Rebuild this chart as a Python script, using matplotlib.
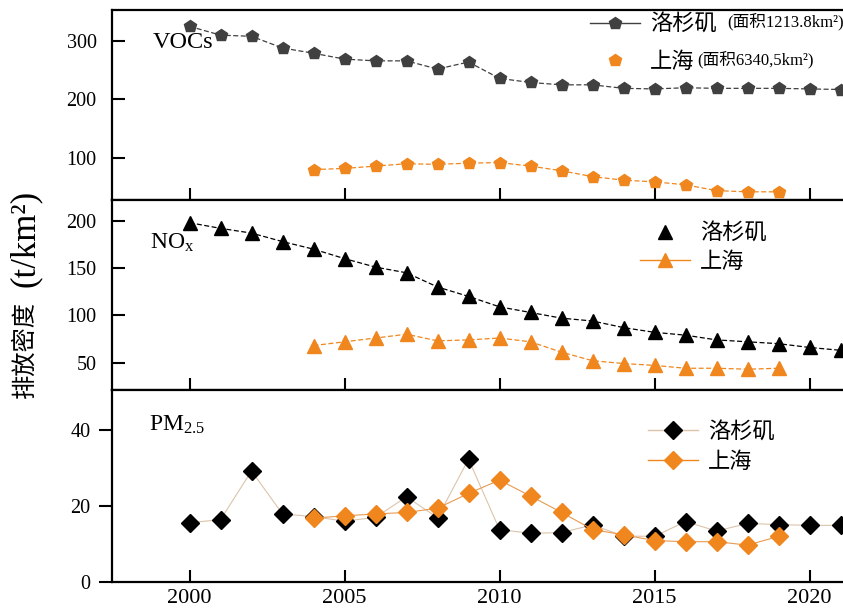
import matplotlib
matplotlib.use('Agg')
import matplotlib.pyplot as plt
from matplotlib.lines import Line2D

plt.rcParams['font.family'] = ['Liberation Serif', 'Noto Sans CJK SC']
plt.rcParams['mathtext.fontset'] = 'custom'
plt.rcParams['mathtext.rm'] = 'Liberation Serif'
plt.rcParams['mathtext.it'] = 'Liberation Serif:italic'

# data
years_la = list(range(2000, 2022))
years_sh = list(range(2004, 2020))

voc_la = [325, 310, 308, 288, 279, 269, 266, 266, 252, 264, 236, 229, 225, 225, 219, 218, 220, 219, 219, 219, 218, 217]
voc_sh = [80, 82, 86, 90, 89, 91, 92, 86, 78, 68, 62, 59, 54, 44, 42, 42]

nox_la = [198, 192, 187, 178, 170, 160, 151, 145, 130, 120, 109, 103, 97, 94, 87, 82, 79, 74, 72, 70, 66, 63]
nox_sh = [68, 72, 76, 80, 73, 74, 76, 72, 61, 52, 49, 47, 44, 44, 43, 44]

pm_la = [15.6, 16.4, 29.2, 17.9, 17.2, 16.0, 17.0, 22.4, 16.9, 32.3, 13.8, 12.8, 13.0, 15.0, 12.1, 12.0, 15.9, 13.4, 15.4, 15.1, 14.9, 14.9]
pm_sh = [16.8, 17.4, 17.9, 18.3, 19.4, 23.3, 26.8, 22.6, 18.3, 13.8, 12.4, 10.9, 10.6, 10.6, 9.7, 12.0]

la_label = '洛杉矶'
sh_label = '上海'
la_area = '(面积1213.8km²)'
sh_area = '(面积6340,5km²)'

GRAY = '#404040'
ORANGE = '#f0861e'
CJK = ['Noto Sans CJK SC', 'Liberation Serif']
DASH = (0, (4, 2))

fig = plt.figure(figsize=(8.43, 6.14), dpi=100)
W, H = 843.0, 614.0
left = 112 / W
width = 1.0 - left

def make_ax(top_px, bot_px):
    return fig.add_axes([left, 1 - bot_px / H, width, (bot_px - top_px) / H])

ax1 = make_ax(10, 200)
ax2 = make_ax(200, 390)
ax3 = make_ax(390, 582)

for ax in (ax1, ax2, ax3):
    ax.set_xlim(1997.5, 2021.08)
    ax.set_xticks([2000, 2005, 2010, 2015, 2020])
    for s in ax.spines.values():
        s.set_linewidth(1.6)
    ax.spines['right'].set_visible(False)
    ax.tick_params(axis='x', direction='in', length=9, width=1.5, labelsize=16, pad=5)
    ax.tick_params(axis='y', direction='in', length=9.5, width=1.5, labelsize=14.5, pad=11)
ax3.tick_params(axis='y', direction='out', pad=6)
ax1.tick_params(axis='x', labelbottom=False)
ax2.tick_params(axis='x', labelbottom=False)

# VOCs
ax1.plot(years_la, voc_la, ls=DASH, lw=0.9, color=GRAY, marker='p', ms=9, mfc=GRAY, mec=GRAY)
ax1.plot(years_sh, voc_sh, ls=DASH, lw=0.9, color=ORANGE, marker='p', ms=9, mfc=ORANGE, mec=ORANGE)
ax1.set_ylim(28, 353)
ax1.set_yticks([100, 200, 300])
ax1.text(0.056, 0.83, 'VOCs', transform=ax1.transAxes, fontsize=17.5, va='center', ha='left')
h1 = [Line2D([], [], color=GRAY, lw=1.0, marker='p', ms=9, mfc=GRAY, mec=GRAY),
      Line2D([], [], ls='none', marker='p', ms=9, mfc=ORANGE, mec=ORANGE)]
ax1.legend(h1, [la_label, sh_label], loc='upper left', bbox_to_anchor=(0.654, 0.988),
           frameon=False, prop={'family': CJK, 'size': 16}, handlelength=2.25,
           handletextpad=0.45, borderpad=0, borderaxespad=0, labelspacing=0.64)
fig.text(727 / W, 1 - 22 / H, la_area, fontsize=12, va='center', ha='left')
fig.text(697 / W, 1 - 60 / H, sh_area, fontsize=12, va='center', ha='left')

# NOx
ax2.plot(years_la, nox_la, ls=DASH, lw=0.9, color='black', marker='^', ms=9.5, mfc='black', mec='black')
ax2.plot(years_sh, nox_sh, ls=DASH, lw=0.9, color=ORANGE, marker='^', ms=9.5, mfc=ORANGE, mec=ORANGE)
ax2.set_ylim(21, 222)
ax2.set_yticks([50, 100, 150, 200])
ax2.text(0.052, 0.774, 'NO$_\\mathrm{x}$', transform=ax2.transAxes, fontsize=17, va='center', ha='left')
h2 = [Line2D([], [], ls='none', marker='^', ms=9.5, mfc='black', mec='black'),
      Line2D([], [], color=ORANGE, lw=1.0, marker='^', ms=9.5, mfc=ORANGE, mec=ORANGE)]
ax2.legend(h2, [la_label, sh_label], loc='upper left', bbox_to_anchor=(0.722, 0.888),
           frameon=False, prop={'family': CJK, 'size': 16}, handlelength=2.25,
           handletextpad=0.45, borderpad=0, borderaxespad=0, labelspacing=0.24)

# PM2.5
ax3.plot(years_la, pm_la, ls='-', lw=0.8, color='#dcc4aa', marker='D', ms=9, mfc='black', mec='black')
ax3.plot(years_sh, pm_sh, ls='-', lw=0.8, color='#e89a50', marker='D', ms=9, mfc=ORANGE, mec=ORANGE)
ax3.set_ylim(0, 50.5)
ax3.set_yticks([0, 20, 40])
ax3.text(0.05, 0.818, 'PM$_\\mathrm{2.5}$', transform=ax3.transAxes, fontsize=17, va='center', ha='left')
h3 = [Line2D([], [], color='#dcc4aa', lw=1.0, marker='D', ms=9, mfc='black', mec='black'),
      Line2D([], [], color=ORANGE, lw=1.0, marker='D', ms=9, mfc=ORANGE, mec=ORANGE)]
ax3.legend(h3, [la_label, sh_label], loc='upper left', bbox_to_anchor=(0.733, 0.843),
           frameon=False, prop={'family': CJK, 'size': 16}, handlelength=2.25,
           handletextpad=0.45, borderpad=0, borderaxespad=0, labelspacing=0.29)

# y label: Chinese part and unit part
fig.text(25 / W, 1 - 349 / H, '排放密度', rotation=90, fontsize=17.5,
         va='center', ha='center', family=CJK)
fig.text(25 / W, 1 - 238 / H, '(t/km²)', rotation=90, fontsize=25,
         va='center', ha='center')

fig.savefig('out.png', dpi=100)
